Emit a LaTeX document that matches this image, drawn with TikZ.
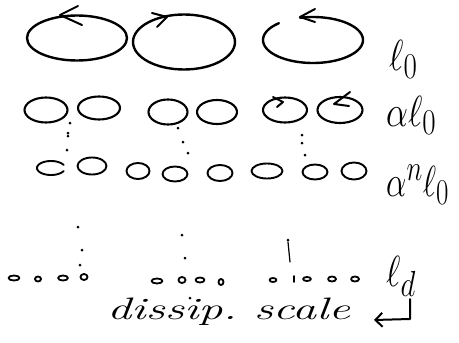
\documentclass[tikz,border=0pt]{standalone}
\usepackage{graphicx}
\usepackage{fontspec}
\usetikzlibrary{shapes.geometric,arrows.meta}
\begin{document}
\begin{tikzpicture}[x=1pt,y=-1pt,line cap=round,line join=round]
\tikzset{
 big/.style={draw,ellipse,inner sep=0pt,line width=2.4pt},
 mid/.style={draw,ellipse,inner sep=0pt,line width=2.1pt},
 small/.style={draw,ellipse,inner sep=0pt,line width=1.9pt},
 tiny/.style={draw,ellipse,inner sep=0pt,line width=1.8pt},
 barb/.style={line width=2pt},
 lab/.style={font=\Huge,inner sep=0pt,anchor=base west},
 dotmark/.style={fill=black}
}
\newcommand{\bigmath}[1]{\scalebox{1.4}[1.75]{$#1$}}
\useasboundingbox (0,0) rectangle (459,343);
% row 1: large eddies l_0
\node[big,minimum width=100pt,minimum height=45pt] (A1) at (77,38) {};
\node[big,minimum width=102pt,minimum height=55pt] (A2) at (184,42) {};
\draw[line width=2.4pt] plot[domain=255:587,samples=80] ({313+50*cos(\x)},{40+23*sin(\x)});
\coordinate (A3) at (313,40);
\draw[barb] (78,6) -- (60,15) -- (82,25);
\draw[barb] (152,13) -- (167,17) -- (157,27);
\draw[barb] (315,9) -- (300,17) -- (315,22);
% row 2: alpha l_0
\node[mid,minimum width=43pt,minimum height=25pt] (B1) at (46,110) {};
\node[mid,minimum width=42pt,minimum height=23pt] (B2) at (99,108) {};
\node[mid,minimum width=39pt,minimum height=25pt] (B3) at (168,112) {};
\node[mid,minimum width=40pt,minimum height=24pt] (B4) at (217,112) {};
\node[mid,minimum width=44pt,minimum height=25pt] (B5) at (285,110) {};
\node[mid,minimum width=45pt,minimum height=26pt] (B6) at (340,110) {};
\draw[barb] (273,97) -- (283,102) -- (277,107);
\draw[barb] (350,92) -- (334,104) -- (349,106);
% dots row 2 -> row 3
\foreach \p in {(70,123),(68,133),(68,136),(67,150),(178,128),(183,142),(188,153),(302,135),(302,143),(305,155)}
  \fill[dotmark] \p circle (1.5pt);
% row 3: alpha^n l_0
\draw[line width=1.9pt] plot[domain=25:335,samples=50] ({51+14*cos(\x)},{168+7*sin(\x)});
\coordinate (C1) at (51,168);
\node[small,minimum width=29pt,minimum height=17pt] (C2) at (92,166) {};
\node[small,minimum width=23pt,minimum height=16pt] (C3) at (138,171) {};
\node[small,minimum width=25pt,minimum height=15pt] (C4) at (175,174) {};
\node[small,minimum width=25pt,minimum height=16pt] (C5) at (220,173) {};
\node[small,minimum width=31pt,minimum height=15pt] (C6) at (267,171) {};
\node[small,minimum width=25pt,minimum height=15pt] (C7) at (315,172) {};
\node[small,minimum width=25pt,minimum height=17pt] (C8) at (354,171) {};
% dots row 3 -> row 4
\foreach \p in {(78,227),(82,250),(80,265),(182,235),(185,258),(190,298),(288,240)}
  \fill[dotmark] \p circle (1.5pt);
\draw[line width=1.2pt] (288,242) -- (290,262);
% row 4: dissipation scale
\node[tiny,minimum width=11pt,minimum height=5pt] (D1) at (14,278) {};
\node[tiny,minimum width=6pt,minimum height=5pt] (D2) at (38,279) {};
\node[tiny,minimum width=10pt,minimum height=5pt] (D3) at (63,278) {};
\node[tiny,minimum width=7pt,minimum height=6pt] (D4) at (84,277) {};
\node[tiny,minimum width=11pt,minimum height=5pt] (D5) at (157,281) {};
\node[tiny,minimum width=7pt,minimum height=6pt] (D6) at (182,280) {};
\node[tiny,minimum width=9pt,minimum height=5pt] (D7) at (200,280) {};
\node[tiny,minimum width=5pt,minimum height=6pt] (D8) at (221,282) {};
\node[tiny,minimum width=7pt,minimum height=4pt] (D9) at (273,280) {};
\draw[line width=1.8pt] (294,276) -- (294,282);
\node[tiny,minimum width=8pt,minimum height=4pt] (D10) at (307,279) {};
\node[tiny,minimum width=8pt,minimum height=5pt] (D11) at (332,279) {};
\node[tiny,minimum width=8pt,minimum height=5pt] (D12) at (355,279) {};
% labels
\node[lab] (L0) at (389,70) {\bigmath{\ell_0}};
\node[lab] (L1) at (386,126) {\bigmath{\alpha\ell_0}};
\node[lab] (L2) at (386,196) {\scalebox{1.3}[1.75]{$\alpha^n\ell_0$}};
\node[lab] (L3) at (386,286) {\bigmath{\ell_d}};
\node[lab,font=\fontsize{31}{34}\selectfont\itshape] (T) at (107,319) {\scalebox{1.55}[1]{dissip.\ scale}};
\draw[line width=2pt,-{Straight Barb[length=7pt,width=14pt]}] (410,299) -- (410,319) -- (374,320);
\end{tikzpicture}
\end{document}
